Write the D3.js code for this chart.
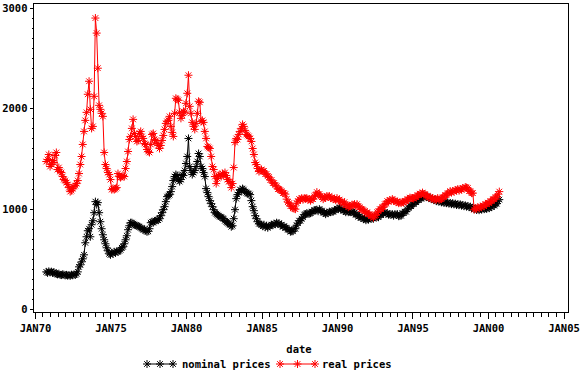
<!DOCTYPE html>
<html>
<head>
<meta charset="utf-8">
<script src="https://cdn.jsdelivr.net/npm/d3@7"></script>
<style>
  body { margin: 0; background: #fff; }
  svg { display: block; }
  text { font-family: "DejaVu Sans Mono", monospace; font-weight: bold; font-size: 10.5px; fill: #000; }
</style>
</head>
<body>
<div id="chart"></div>
<script>
// monthly series, first value is Oct 1970
var startYear = 1970, startMonth = 9;

var nominal = [
  370, 360, 375,
  365, 372, 360, 368, 355, 350, 345, 352, 340, 338, 345, 342,
  335, 340, 332, 338, 330, 342, 336, 345, 340, 350, 370, 420,
  440, 470, 500, 540, 660, 720, 780, 800, 720, 840, 880, 960,
  1070, 1040, 1060, 960, 870, 800, 740, 690, 650, 610, 580, 550,
  540, 560, 550, 570, 560, 575, 570, 580, 590, 610, 620, 650,
  690, 730, 790, 830, 860, 860, 850, 840, 835, 830, 825, 820,
  810, 800, 790, 795, 780, 770, 775, 800, 860, 870, 860, 875,
  880, 890, 885, 900, 930, 960, 990, 1020, 1070, 1120, 1130, 1140,
  1170, 1220, 1280, 1320, 1340, 1330, 1290, 1270, 1290, 1340, 1330, 1380,
  1450, 1520, 1700, 1420, 1380, 1340, 1360, 1380, 1420, 1470, 1550, 1520,
  1420, 1400, 1360, 1320, 1200, 1160, 1120, 1080, 1050, 1020, 990, 960,
  950, 940, 930, 920, 915, 905, 900, 880, 870, 860, 850, 840,
  820, 830, 900, 990, 1100, 1140, 1160, 1190, 1180, 1200, 1190, 1170,
  1160, 1150, 1150, 1140, 1080, 1020, 980, 930, 900, 870, 850, 845,
  840, 825, 840, 815, 830, 810, 825, 830, 840, 835, 850, 845,
  860, 850, 855, 835, 840, 820, 825, 810, 810, 790, 790, 770,
  775, 775, 800, 800, 835, 855, 880, 880, 900, 915, 940, 945,
  955, 950, 950, 955, 970, 970, 985, 985, 990, 975, 995, 980,
  980, 960, 960, 945, 960, 955, 970, 965, 970, 970, 985, 985,
  1000, 995, 1010, 995, 1000, 980, 980, 965, 980, 965, 970, 965,
  970, 955, 960, 940, 940, 920, 925, 910, 910, 895, 900, 885,
  895, 890, 905, 900, 905, 900, 920, 915, 920, 915, 935, 935,
  955, 950, 965, 950, 955, 940, 945, 940, 945, 930, 945, 940,
  945, 925, 930, 930, 955, 955, 970, 970, 995, 1005, 1025, 1025,
  1045, 1045, 1065, 1065, 1085, 1085, 1100, 1100, 1120, 1115, 1130, 1115,
  1120, 1105, 1110, 1095, 1100, 1085, 1090, 1075, 1083, 1070, 1075, 1063,
  1070, 1057, 1065, 1055, 1063, 1050, 1057, 1045, 1055, 1043, 1050, 1037,
  1045, 1035, 1043, 1030, 1037, 1025, 1033, 1020, 1027, 1015, 1020, 1005,
  1010, 995, 1000, 987, 995, 985, 997, 990, 1003, 995, 1005, 997,
  1010, 1005, 1020, 1015, 1035, 1030, 1045, 1050, 1075, 1090
];

var real = [
  1470, 1490, 1540,
  1420, 1440, 1480, 1460, 1530, 1560, 1390, 1410, 1370, 1360, 1320, 1290,
  1280, 1260, 1240, 1210, 1170, 1180, 1200, 1220, 1230, 1250, 1280, 1350,
  1440, 1520, 1640, 1770, 1880, 1960, 2140, 2270, 1990, 1800, 1820, 2120,
  2900, 2750, 2400, 2030, 1990, 1950, 1920, 1560, 1440, 1400, 1360, 1340,
  1290, 1190, 1200, 1190, 1200, 1210, 1350, 1320, 1310, 1320, 1330, 1320,
  1400, 1470, 1570, 1690, 1720, 1800, 1890, 1750, 1720, 1670, 1680, 1750,
  1770, 1720, 1700, 1650, 1640, 1590, 1570, 1560, 1640, 1740, 1750, 1690,
  1680, 1650, 1630, 1600, 1630, 1680, 1730, 1790, 1850, 1870, 1880, 1920,
  1820, 1760, 1720, 1950, 2100, 2090, 2080, 1960, 1900, 1930, 1970, 1960,
  2050, 2150, 2330, 2020, 1950, 1860, 1820, 1790, 1850, 1950, 2070, 2060,
  1870, 1880, 1860, 1770, 1700, 1620, 1610, 1600, 1520, 1420, 1390, 1320,
  1250, 1300, 1330, 1340, 1320, 1350, 1340, 1360, 1330, 1290, 1270, 1270,
  1210, 1250, 1410, 1660, 1700, 1690, 1740, 1770, 1800, 1840, 1820, 1780,
  1740, 1730, 1720, 1700, 1670, 1600, 1540, 1460, 1440, 1400, 1370, 1380,
  1390, 1375, 1375, 1345, 1345, 1325, 1315, 1285, 1285, 1255, 1255, 1235,
  1225, 1195, 1195, 1185, 1175, 1155, 1155, 1145, 1095, 1065, 1055, 1025,
  1025, 1005, 1000, 995, 1055, 1075, 1095, 1090, 1105, 1090, 1105, 1100,
  1105, 1090, 1095, 1080, 1095, 1095, 1125, 1135, 1165, 1145, 1145, 1125,
  1115, 1095, 1110, 1110, 1125, 1120, 1125, 1105, 1110, 1095, 1100, 1085,
  1105, 1085, 1090, 1070, 1070, 1045, 1065, 1040, 1035, 1015, 1025, 1025,
  1040, 1035, 1045, 1025, 1045, 1025, 1015, 995, 995, 985, 975, 955,
  965, 945, 945, 925, 925, 910, 930, 935, 965, 975, 995, 995,
  1015, 1015, 1045, 1050, 1075, 1070, 1085, 1080, 1095, 1080, 1080, 1065,
  1070, 1055, 1063, 1055, 1067, 1060, 1075, 1075, 1095, 1095, 1110, 1105,
  1105, 1100, 1115, 1115, 1135, 1135, 1150, 1145, 1160, 1145, 1145, 1125,
  1125, 1110, 1115, 1100, 1105, 1090, 1095, 1090, 1105, 1090, 1095, 1095,
  1115, 1115, 1135, 1135, 1155, 1155, 1175, 1160, 1175, 1170, 1185, 1180,
  1195, 1180, 1195, 1190, 1205, 1200, 1215, 1210, 1205, 1175, 1175, 1155,
  1155, 990, 1005, 1000, 1015, 1005, 1020, 1015, 1030, 1025, 1045, 1045,
  1060, 1055, 1075, 1075, 1095, 1095, 1115, 1115, 1145, 1170
];

var seriesNames = ["nominal prices", "real prices"];
var yTicks = [0, 1000, 2000, 3000];
var xTickYears = [1970, 1975, 1980, 1985, 1990, 1995, 2000, 2005];
var xTickLabels = ["JAN70", "JAN75", "JAN80", "JAN85", "JAN90", "JAN95", "JAN00", "JAN05"];

var colors = ["#000000", "#ff0000"];
var width = 583, height = 372;
var plotLeft = 33, plotRight = 568, plotTop = 3, plotBottom = 312;

var svg = d3.select("#chart").append("svg")
  .attr("width", width)
  .attr("height", height);

var x = d3.scaleUtc()
  .domain([new Date(Date.UTC(1970, 0, 1)), new Date(Date.UTC(2005, 0, 1))])
  .range([35, 563.5]);
var y = d3.scaleLinear().domain([-30, 3050]).range([plotBottom, plotTop]);

function monthDate(i) {
  return new Date(Date.UTC(startYear, startMonth + i, 1));
}

// frame
svg.append("rect")
  .attr("x", plotLeft + 0.5).attr("y", plotTop + 0.5)
  .attr("width", plotRight - plotLeft).attr("height", plotBottom - plotTop)
  .attr("fill", "none").attr("stroke", "#000").attr("shape-rendering", "crispEdges");

// y axis, minor + major
svg.append("g").attr("transform", "translate(" + (plotLeft + 0.5) + ",0)")
  .call(d3.axisLeft(y).tickValues(d3.range(0, 3001, 100)).tickSize(2).tickFormat(""));
var yAxis = svg.append("g").attr("transform", "translate(" + (plotLeft + 0.5) + ",0)")
  .call(d3.axisLeft(y).tickValues(yTicks).tickSize(4).tickPadding(2).tickFormat(d3.format("d")));

// x axis, minor + major
svg.append("g").attr("transform", "translate(0," + (plotBottom + 0.5) + ")")
  .call(d3.axisBottom(x).tickValues(d3.utcMonth.every(6).range(x.domain()[0], x.domain()[1])).tickSize(4).tickFormat(""));
var xAxis = svg.append("g").attr("transform", "translate(0," + (plotBottom + 0.5) + ")")
  .call(d3.axisBottom(x)
    .tickValues(xTickYears.map(function(yr) { return new Date(Date.UTC(yr, 0, 1)); }))
    .tickSize(6).tickPadding(6)
    .tickFormat(function(d, i) { return xTickLabels[i]; }));

svg.selectAll(".domain").remove();
svg.selectAll(".tick line").attr("shape-rendering", "crispEdges");
xAxis.attr("font-family", null).attr("font-size", null);
yAxis.attr("font-family", null).attr("font-size", null);

svg.append("text")
  .attr("x", 299).attr("y", 353)
  .attr("text-anchor", "middle")
  .text("date");

// star marker
var r = 4, dg = r * 0.707;
var star = "M" + (-r) + ",0H" + r + "M0," + (-r) + "V" + r +
  "M" + (-dg) + "," + (-dg) + "L" + dg + "," + dg +
  "M" + (-dg) + "," + dg + "L" + dg + "," + (-dg);

var series = [nominal, real].map(function(vals, k) {
  return {
    name: seriesNames[k],
    color: colors[k],
    points: vals.map(function(v, i) { return { date: monthDate(i), value: v }; })
  };
});

var line = d3.line()
  .x(function(d) { return x(d.date); })
  .y(function(d) { return y(d.value); });

series.forEach(function(s) {
  var g = svg.append("g");
  g.append("path")
    .attr("d", line(s.points))
    .attr("fill", "none")
    .attr("stroke", s.color)
    .attr("stroke-width", 1);
  g.selectAll("path.star").data(s.points)
    .enter().append("path")
      .attr("class", "star")
      .attr("d", star)
      .attr("transform", function(d) { return "translate(" + x(d.date) + "," + y(d.value) + ")"; })
      .attr("stroke", s.color)
      .attr("stroke-width", 1)
      .attr("fill", "none");
});

// legend
var legendItems = [
  { x0: 147, x1: 173, tx: 182 },
  { x0: 280, x1: 315, tx: 322 }
];
var legendY = 364;
series.forEach(function(s, k) {
  var it = legendItems[k];
  var lg = svg.append("g");
  lg.append("line")
    .attr("x1", it.x0).attr("x2", it.x1)
    .attr("y1", legendY).attr("y2", legendY)
    .attr("stroke", s.color);
  [it.x0, (it.x0 + it.x1) / 2, it.x1].forEach(function(px) {
    lg.append("path")
      .attr("d", star)
      .attr("transform", "translate(" + px + "," + legendY + ")")
      .attr("stroke", s.color).attr("fill", "none");
  });
  lg.append("text")
    .attr("x", it.tx).attr("y", legendY + 3.5)
    .text(s.name);
});
</script>
</body>
</html>
